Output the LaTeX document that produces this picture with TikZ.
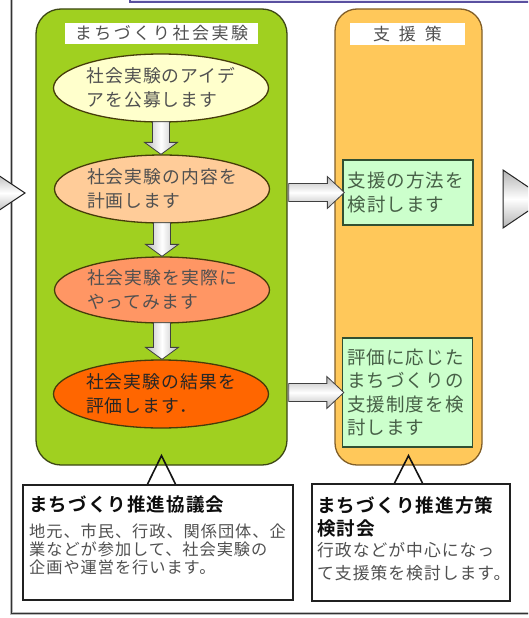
\documentclass[tikz,border=0pt]{standalone}
\usepackage{fontspec}
\setmainfont{Noto Sans CJK JP}
\newfontfamily\jp[LetterSpace=6]{Noto Sans CJK JP}
\newfontfamily\jpt[LetterSpace=15]{Noto Sans CJK JP}
\newfontfamily\jpb[LetterSpace=6]{Noto Sans CJK JP Bold}
\usetikzlibrary{shapes.geometric,calc}
\definecolor{limeg}{RGB}{160,208,32}
\definecolor{gborder}{RGB}{60,70,20}
\definecolor{orfill}{RGB}{255,200,90}
\definecolor{orborder}{RGB}{130,95,40}
\definecolor{ellA}{RGB}{255,255,204}
\definecolor{ellB}{RGB}{255,204,153}
\definecolor{ellC}{RGB}{255,150,100}
\definecolor{ellD}{RGB}{255,102,0}
\definecolor{ellborder}{RGB}{70,60,10}
\definecolor{mint}{RGB}{204,255,204}
\definecolor{mintborder}{RGB}{50,80,50}
\definecolor{mintext}{RGB}{70,95,70}
\definecolor{txtgrey}{RGB}{80,80,80}
\definecolor{lav}{RGB}{228,228,246}
\definecolor{lavborder}{RGB}{90,80,160}
\newcommand\dnarrow[2]{%
  \path[downarr] ($(#1.south)+(-8.5,-1)$) -- ($(#1.south|-#2.north)+(-8.5,-12)$)
    -- ($(#1.south|-#2.north)+(-16.5,-12)$) -- (#1.south|-#2.north)
    -- ($(#1.south|-#2.north)+(16.5,-12)$) -- ($(#1.south|-#2.north)+(8.5,-12)$)
    -- ($(#1.south)+(8.5,-1)$) -- cycle;}
\newcommand\rtarrow[2]{%
  \path[rightarr] ($(#1.east|-#2.west)+(1,-9)$) -- ($(#2.west)+(-15,-9)$)
    -- ($(#2.west)+(-15,-16)$) -- ($(#2.west)+(2,0)$)
    -- ($(#2.west)+(-15,16)$) -- ($(#2.west)+(-15,9)$)
    -- ($(#1.east|-#2.west)+(1,9)$) -- cycle;}
\begin{document}
\begin{tikzpicture}[x=1pt,y=-1pt,
  colbox/.style={draw, line width=1.3pt, inner sep=0pt},
  titlebox/.style={fill=white, inner sep=0pt, text=txtgrey, font=\jpt\fontsize{17}{20}\selectfont},
  ellnode/.style={ellipse, draw=ellborder, line width=1.3pt, inner sep=0pt,
    minimum width=215pt, minimum height=68pt, align=left, text=txtgrey,
    font=\jp\fontsize{17.8}{24}\selectfont},
  supbox/.style={draw=mintborder, fill=mint, line width=1.3pt, inner xsep=4.5pt, inner ysep=0pt,
    text width=121pt, align=left, text=mintext, font=\jp\fontsize{18.5}{23.5}\selectfont},
  callbox/.style={draw=gray!25!black, fill=white, line width=1.8pt, inner sep=0pt},
  downarr/.style={draw=gray!50!black, line width=0.8pt, left color=gray!55, right color=gray!55, middle color=white},
  rightarr/.style={draw=gray!50!black, line width=0.8pt, top color=gray!55, bottom color=gray!55, middle color=white},
  sidetri/.style={draw=gray!30!black, line width=1pt, top color=gray!60, bottom color=gray!60, middle color=white}]
\useasboundingbox (0,0) rectangle (528,618);
\clip (0,0) rectangle (528,618);
\fill[white] (0,0) rectangle (528,618);
% top box and frame
\draw[draw=lavborder, fill=lav, line width=1.2pt] (130,-20) rectangle (545,2);
\draw[gray!55, line width=3pt] (11,-5) -- (11,613) -- (540,613);
\draw[gray!40!black, line width=0.8pt] (11,-5) -- (11,613) -- (540,613);
% side triangles
\path[sidetri] (-8,171) -- (25,193) -- (-8,215) -- cycle;
\path[sidetri] (503,170) -- (546,199) -- (503,228) -- cycle;
% column boxes
\node[colbox, draw=gborder, fill=limeg, rounded corners=25pt, minimum width=251pt, minimum height=456pt] (gbox) at (161.5,237) {};
\node[colbox, draw=orborder, fill=orfill, rounded corners=22pt, minimum width=147pt, minimum height=456pt] (obox) at (408.5,237) {};
\node[titlebox, minimum width=193pt, minimum height=21pt] (gtitle) at (161.5,33.5) {まちづくり社会実験};
\node[titlebox, minimum width=115pt, minimum height=22pt] (otitle) at (407.5,34) {支\hspace{9pt}援\hspace{9pt}策};
% ellipses
\node[ellnode, fill=ellA] (e1) at (161,88) {社会実験のアイデ\\アを公募します};
\node[ellnode, fill=ellB] (e2) at (162,189) {社会実験の内容を\\計画します};
\node[ellnode, fill=ellC, minimum height=66pt] (e3) at (162,290) {社会実験を実際に\\やってみます};
\node[ellnode, fill=ellD, text=gray!30!black] (e4) at (161,394) {社会実験の結果を\\評価します．};
\dnarrow{e1}{e2}
\dnarrow{e2}{e3}
\dnarrow{e3}{e4}
% support boxes
\node[supbox, minimum height=65pt] (s1) at (408,192.5) {支援の方法を\\検討します};
\node[supbox, minimum height=109pt] (s2) at (407.5,392.5) {評価に応じた\\まちづくりの\\支援制度を検\\討します};
\rtarrow{gbox}{s1}
\rtarrow{gbox}{s2}
% callouts
\node[callbox, minimum width=270pt, minimum height=115pt] (c1) at (158,542.5) {};
\draw[gray!15!black, line width=1.6pt] ($(gbox.south|-c1.north)+(-14,0)$) -- ($(gbox.south)+(0,-10)$) -- ($(gbox.south|-c1.north)+(14,0)$);
\node[anchor=west, inner sep=0pt, text=gray!10!black, font=\jpb\fontsize{18.5}{20}\selectfont] (c1t) at (29,504) {まちづくり推進協議会};
\node[anchor=north west, inner sep=0pt, align=left, text=txtgrey, font=\jp\fontsize{16.2}{18}\selectfont] (c1b) at (29,524) {地元、市民、行政、関係団体、企\\業などが参加して、社会実験の\\企画や運営を行います。};
\node[callbox, minimum width=198pt, minimum height=117pt] (c2) at (411,542.5) {};
\draw[gray!15!black, line width=1.6pt] ($(obox.south|-c2.north)+(-14,0)$) -- ($(obox.south)+(0,-10)$) -- ($(obox.south|-c2.north)+(14,0)$);
\node[anchor=north west, inner sep=0pt, align=left, text=gray!10!black, font=\jpb\fontsize{18.6}{23}\selectfont] (c2t) at (317,496) {まちづくり推進方策\\検討会};
\node[anchor=north west, inner sep=0pt, align=left, text=txtgrey, font=\jp\fontsize{16.8}{23}\selectfont] (c2b) at (317,542) {行政などが中心になっ\\て支援策を検討します。};
\end{tikzpicture}
\end{document}
